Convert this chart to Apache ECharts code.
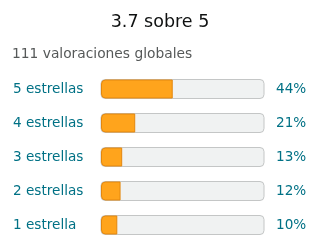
<!DOCTYPE html>
<html>
<head>
<meta charset="utf-8">
<script src="https://cdn.jsdelivr.net/npm/echarts@6/dist/echarts.min.js"></script>
<style>
  html, body { margin: 0; padding: 0; background: #fff; }
  #chart { width: 320px; height: 252px; }
</style>
</head>
<body>
<div id="chart"></div>
<script>
const ratingTitle = '3.7 sobre 5';
const ratingSubtitle = '111 valoraciones globales';
const starLabels = ['5 estrellas', '4 estrellas', '3 estrellas', '2 estrellas', '1 estrella'];
const starPercents = [44, 21, 13, 12, 10];

const chart = echarts.init(document.getElementById('chart'), null, { renderer: 'canvas' });
const font = 'DejaVu Sans';

const option = {
  backgroundColor: '#fff',
  animation: false,
  title: [
    {
      text: ratingTitle,
      left: 'center',
      top: 13,
      padding: 0,
      textStyle: { fontFamily: font, fontSize: 17.5, fontWeight: 'normal', color: '#0F1111' }
    },
    {
      text: ratingSubtitle,
      left: 12,
      top: 47,
      padding: 0,
      textStyle: { fontFamily: font, fontSize: 13.8, fontWeight: 'normal', color: '#565959' }
    }
  ],
  grid: { left: 101, width: 163, top: 72, height: 170 },
  xAxis: { type: 'value', min: 0, max: 100, show: false },
  yAxis: [
    {
      type: 'category',
      data: starLabels,
      inverse: true,
      axisLine: { show: false },
      axisTick: { show: false },
      axisLabel: {
        align: 'left',
        margin: 88,
        fontFamily: font,
        fontSize: 13.6,
        color: '#007185'
      }
    },
    {
      type: 'category',
      position: 'right',
      data: starPercents.map(p => p + '%'),
      inverse: true,
      axisLine: { show: false },
      axisTick: { show: false },
      axisLabel: {
        align: 'left',
        margin: 12,
        fontFamily: font,
        fontSize: 13.6,
        color: '#007185'
      }
    }
  ],
  series: [
    {
      type: 'bar',
      data: starPercents,
      barWidth: 19,
      showBackground: true,
      backgroundStyle: {
        color: '#F0F2F2',
        borderColor: '#C4C6C6',
        borderWidth: 1,
        borderRadius: 4
      },
      itemStyle: {
        color: '#FFA41C',
        borderColor: '#E3870E',
        borderWidth: 1,
        borderRadius: [4, 0, 0, 4]
      }
    }
  ]
};

chart.setOption(option);
</script>
</body>
</html>
